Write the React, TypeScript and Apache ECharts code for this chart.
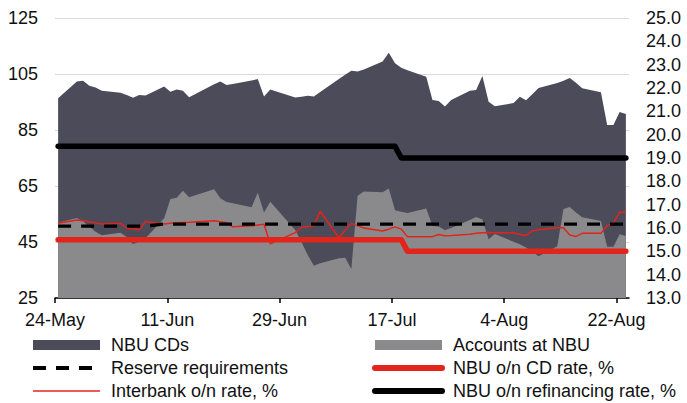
import React, { useEffect, useRef } from 'react';
import * as echarts from 'echarts';

// Business days with data (2019)
const dates = [
  '2019-05-24',
  '2019-05-27', '2019-05-28', '2019-05-29', '2019-05-30', '2019-05-31',
  '2019-06-03', '2019-06-04', '2019-06-05', '2019-06-06', '2019-06-07',
  '2019-06-10', '2019-06-11', '2019-06-12', '2019-06-13', '2019-06-14',
  '2019-06-18', '2019-06-19', '2019-06-20', '2019-06-21',
  '2019-06-24', '2019-06-25', '2019-06-26', '2019-06-27',
  '2019-07-01', '2019-07-02', '2019-07-03', '2019-07-04', '2019-07-05',
  '2019-07-08', '2019-07-09', '2019-07-10', '2019-07-11', '2019-07-12',
  '2019-07-15', '2019-07-16', '2019-07-17', '2019-07-18', '2019-07-19',
  '2019-07-22', '2019-07-23', '2019-07-24', '2019-07-25', '2019-07-26',
  '2019-07-29', '2019-07-30', '2019-07-31', '2019-08-01', '2019-08-02',
  '2019-08-05', '2019-08-06', '2019-08-07', '2019-08-08', '2019-08-09',
  '2019-08-12', '2019-08-13', '2019-08-14', '2019-08-15', '2019-08-16',
  '2019-08-19', '2019-08-20', '2019-08-21', '2019-08-22', '2019-08-23',
];

// UAH bn (left axis)
const nbuCDs = [
  44.4,
  48.7, 50.3, 50.3, 51.5, 51.6,
  50.0, 50.7, 52.2, 52.4, 51.0,
  47.0, 38.3, 38.7, 35.7, 35.7,
  37.5, 41.7, 41.8, 42.6,
  45.3, 40.6, 41.5, 40.1,
  47.3, 51.9, 56.8, 60.5, 61.2,
  64.0, 65.3, 70.8, 44.4, 43.6,
  46.7, 48.5, 52.5, 51.4, 50.9,
  47.0, 45.0, 44.9, 44.2, 45.7,
  46.1, 45.4, 51.3, 49.1, 45.6,
  49.5, 52.7, 52.6, 56.2, 60.1,
  58.3, 45.8, 46.1, 46.4, 46.1,
  46.0, 43.5, 43.5, 43.6, 43.6,
];

const accountsAtNBU = [
  51.9,
  53.6, 52.3, 50.5, 48.7, 47.4,
  48.3, 46.8, 44.3, 45.1, 46.3,
  53.5, 60.4, 60.8, 63.3, 61.0,
  63.8, 60.6, 59.3, 58.8,
  57.4, 62.6, 55.5, 59.4,
  49.3, 45.0, 40.4, 36.5, 37.4,
  39.2, 39.4, 35.4, 61.5, 63.0,
  62.8, 64.1, 56.3, 55.8, 55.4,
  57.0, 50.7, 50.5, 49.2, 50.0,
  52.9, 53.9, 53.0, 46.0, 47.9,
  45.1, 44.2, 43.0, 41.6, 39.9,
  43.5, 56.8, 57.5, 55.5, 53.8,
  52.5, 43.3, 43.3, 47.8, 47.1,
];

const reserveRequirements = [
  50.7,
  50.7, 50.7, 50.7, 50.7, 50.7,
  50.7, 50.7, 50.7, 50.7, 50.7,
  51.4, 51.4, 51.4, 51.4, 51.4,
  51.4, 51.4, 51.4, 51.4,
  51.4, 51.4, 51.4, 51.4,
  51.4, 51.4, 51.4, 51.4, 51.4,
  51.4, 51.4, 51.4, 51.4, 51.4,
  51.4, 51.4, 51.4, 51.4, 51.4,
  51.4, 51.4, 51.4, 51.4, 51.4,
  51.4, 51.4, 51.4, 51.4, 51.4,
  51.4, 51.4, 51.4, 51.4, 51.4,
  51.4, 51.4, 51.4, 51.4, 51.4,
  51.4, 51.4, 51.4, 51.4, 51.4,
];

// % (right axis)
const interbankRate = [
  16.20,
  16.34, 16.31, 16.27, 16.22, 16.17,
  16.20, 15.99, 15.96, 15.92, 16.28,
  16.17, 16.20, 16.22, 16.24, 16.25,
  16.31, 16.27, 16.23, 16.05,
  16.10, 16.13, 16.16, 15.32,
  15.80, 16.02, 16.06, 16.09, 16.72,
  15.58, 15.90, 16.20, 16.10, 16.00,
  15.87, 15.95, 16.05, 15.95, 15.63,
  15.63, 15.63, 15.72, 15.67, 15.68,
  15.73, 15.77, 15.80, 15.81, 15.80,
  15.80, 15.72, 15.68, 15.87, 15.93,
  16.01, 16.01, 15.70, 15.64, 15.77,
  15.77, 16.10, 16.21, 16.68, 16.68,
];

const cdRate = [
  15.5,
  15.5, 15.5, 15.5, 15.5, 15.5,
  15.5, 15.5, 15.5, 15.5, 15.5,
  15.5, 15.5, 15.5, 15.5, 15.5,
  15.5, 15.5, 15.5, 15.5,
  15.5, 15.5, 15.5, 15.5,
  15.5, 15.5, 15.5, 15.5, 15.5,
  15.5, 15.5, 15.5, 15.5, 15.5,
  15.5, 15.5, 15.5, 15.5, 15.0,
  15.0, 15.0, 15.0, 15.0, 15.0,
  15.0, 15.0, 15.0, 15.0, 15.0,
  15.0, 15.0, 15.0, 15.0, 15.0,
  15.0, 15.0, 15.0, 15.0, 15.0,
  15.0, 15.0, 15.0, 15.0, 15.0,
];

const refinancingRate = [
  19.5,
  19.5, 19.5, 19.5, 19.5, 19.5,
  19.5, 19.5, 19.5, 19.5, 19.5,
  19.5, 19.5, 19.5, 19.5, 19.5,
  19.5, 19.5, 19.5, 19.5,
  19.5, 19.5, 19.5, 19.5,
  19.5, 19.5, 19.5, 19.5, 19.5,
  19.5, 19.5, 19.5, 19.5, 19.5,
  19.5, 19.5, 19.5, 19.0, 19.0,
  19.0, 19.0, 19.0, 19.0, 19.0,
  19.0, 19.0, 19.0, 19.0, 19.0,
  19.0, 19.0, 19.0, 19.0, 19.0,
  19.0, 19.0, 19.0, 19.0, 19.0,
  19.0, 19.0, 19.0, 19.0, 19.0,
];

const xTickDates = ['2019-05-24', '2019-06-11', '2019-06-29', '2019-07-17', '2019-08-04', '2019-08-22'];
const xTickLabels = ['24-May', '11-Jun', '29-Jun', '17-Jul', '4-Aug', '22-Aug'];
const axisStartDate = '2019-05-24';
const axisEndDate = '2019-08-24';

const DAY = 86400000;
const dayIndex = (s: string) =>
  Math.round((Date.parse(s + 'T00:00:00Z') - Date.parse(axisStartDate + 'T00:00:00Z')) / DAY);
// each day occupies one unit; points sit in the middle of their day
const xOf = (s: string) => dayIndex(s) + 0.5;

const FONT = "'Liberation Sans', Arial, Helvetica, sans-serif";
const TEXT = '#111111';
const DARK = '#4c4b59';
const LIGHT = '#8a8a8c';
const RED = '#e2241b';
const BLACK = '#000000';

export default function App() {
  const ref = useRef<HTMLDivElement>(null);

  useEffect(() => {
    if (!ref.current) return;
    const chart = echarts.init(ref.current, null, { renderer: 'svg' });
    const tickVals = xTickDates.map(dayIndex);
    const labelFor = (v: number) => {
      const i = tickVals.indexOf(Math.round(v));
      return i >= 0 && Math.abs(v - tickVals[i]) < 1e-6 ? xTickLabels[i] : '';
    };
    const pts = (vals: number[]) => dates.map((d, i) => [xOf(d), vals[i]]);
    // NBU CDs are stacked on top of accounts at NBU
    const cdsStackTop = dates.map((d, i) => [xOf(d), +(accountsAtNBU[i] + nbuCDs[i]).toFixed(2)]);

    const legendText = { fontFamily: FONT, fontSize: 18, color: TEXT, lineHeight: 18, padding: [0, 0, 0, 6] };

    chart.setOption({
      animation: false,
      backgroundColor: '#ffffff',
      grid: { left: 55, right: 58, top: 18, bottom: 105, containLabel: false },
      xAxis: {
        type: 'value',
        min: 0,
        max: dayIndex(axisEndDate),
        interval: 18,
        axisLine: { show: true, lineStyle: { color: BLACK, width: 1.5 } },
        axisTick: { show: true, length: 5, lineStyle: { color: BLACK, width: 1.5 }, customValues: tickVals },
        axisLabel: {
          customValues: tickVals,
          formatter: labelFor,
          margin: 13,
          fontFamily: FONT,
          fontSize: 18,
          color: TEXT,
        },
        splitLine: { show: false },
      },
      yAxis: [
        {
          type: 'value',
          min: 25,
          max: 125,
          interval: 20,
          axisLine: { show: false },
          axisTick: { show: false },
          axisLabel: { margin: 17, fontFamily: FONT, fontSize: 18, color: TEXT },
          splitLine: { show: true, lineStyle: { color: '#d9d9d9', width: 1 } },
        },
        {
          type: 'value',
          position: 'right',
          min: 13,
          max: 25,
          interval: 1,
          axisLine: { show: false },
          axisTick: { show: false },
          axisLabel: {
            margin: 17,
            fontFamily: FONT,
            fontSize: 18,
            color: TEXT,
            formatter: (v: number) => v.toFixed(1),
          },
          splitLine: { show: false },
        },
      ],
      legend: [
        {
          orient: 'vertical',
          left: 31,
          top: 336,
          padding: 0,
          itemWidth: 67,
          itemHeight: 10,
          itemGap: 5,
          selectedMode: false,
          textStyle: legendText,
          data: [
            { name: 'NBU CDs', icon: 'rect' },
            { name: 'Reserve requirements', itemStyle: { opacity: 0 }, lineStyle: { width: 4 } },
            { name: 'Interbank o/n rate, %', itemStyle: { opacity: 0 }, lineStyle: { width: 1.5 } },
          ],
        },
        {
          orient: 'vertical',
          left: 372,
          top: 336,
          padding: 0,
          itemWidth: 67,
          itemHeight: 10,
          itemGap: 5,
          selectedMode: false,
          textStyle: legendText,
          data: [
            { name: 'Accounts at NBU', icon: 'rect' },
            { name: 'NBU o/n CD rate, %', itemStyle: { opacity: 0 }, lineStyle: { width: 6 } },
            { name: 'NBU o/n refinancing rate, %', itemStyle: { opacity: 0 }, lineStyle: { width: 6 } },
          ],
        },
      ],
      series: [
        {
          name: 'NBU CDs',
          type: 'line',
          yAxisIndex: 0,
          color: DARK,
          data: cdsStackTop,
          symbol: 'none',
          showSymbol: false,
          lineStyle: { width: 0, color: DARK },
          itemStyle: { color: DARK },
          areaStyle: { color: DARK, opacity: 1 },
          z: 1,
        },
        {
          name: 'Accounts at NBU',
          type: 'line',
          yAxisIndex: 0,
          color: LIGHT,
          data: pts(accountsAtNBU),
          symbol: 'none',
          showSymbol: false,
          lineStyle: { width: 0, color: LIGHT },
          itemStyle: { color: LIGHT },
          areaStyle: { color: LIGHT, opacity: 1 },
          z: 2,
        },
        {
          name: 'Interbank o/n rate, %',
          type: 'line',
          yAxisIndex: 1,
          color: RED,
          data: pts(interbankRate),
          symbol: 'none',
          showSymbol: false,
          lineStyle: { width: 1.5, color: RED },
          itemStyle: { color: RED },
          z: 3,
        },
        {
          name: 'Reserve requirements',
          type: 'line',
          yAxisIndex: 0,
          color: BLACK,
          data: pts(reserveRequirements),
          symbol: 'none',
          showSymbol: false,
          lineStyle: { width: 3.3, color: BLACK, type: [13, 10] },
          itemStyle: { color: BLACK },
          z: 4,
        },
        {
          name: 'NBU o/n CD rate, %',
          type: 'line',
          yAxisIndex: 1,
          color: RED,
          data: pts(cdRate),
          symbol: 'none',
          showSymbol: false,
          lineStyle: { width: 5.5, color: RED, cap: 'round', join: 'round' },
          itemStyle: { color: RED },
          z: 5,
        },
        {
          name: 'NBU o/n refinancing rate, %',
          type: 'line',
          yAxisIndex: 1,
          color: BLACK,
          data: pts(refinancingRate),
          symbol: 'none',
          showSymbol: false,
          lineStyle: { width: 5.5, color: BLACK, cap: 'round', join: 'round' },
          itemStyle: { color: BLACK },
          z: 5,
        },
      ],
    });

    return () => {
      chart.dispose();
    };
  }, []);

  return (
    <div
      ref={ref}
      style={{ position: 'fixed', left: 0, top: 0, width: 687, height: 403, background: '#fff' }}
    />
  );
}
